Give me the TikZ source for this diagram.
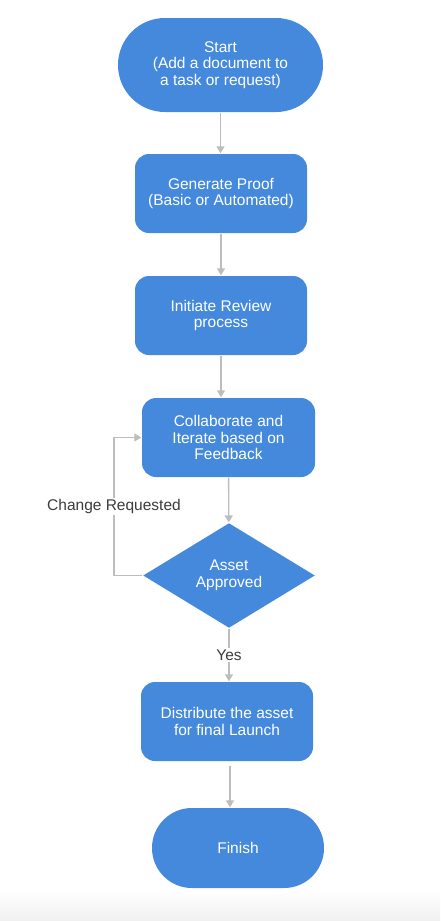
\documentclass[tikz,border=0pt]{standalone}
\usepackage{fontspec}
\setmainfont{Liberation Sans}
\usepackage{xcolor}
\usetikzlibrary{arrows.meta, shapes}

\definecolor{FlowBlue}{HTML}{4589DD}
\definecolor{FlowGray}{HTML}{BDBDBD}
\definecolor{TagGray}{HTML}{3C3C3C}

\begin{document}
\begin{tikzpicture}[x=1pt, y=-1pt,
  font=\fontsize{15.5}{16.5}\selectfont,
  terminal/.style ={fill=FlowBlue, text=white, align=center,
    minimum width=172pt, minimum height=80pt, rounded corners=39.9pt},
  % 
  process/.style ={fill=FlowBlue, text=white, align=center,
    minimum width=172pt, minimum height=79pt, rounded corners=14pt},
  % 
  decision/.style ={diamond, fill=FlowBlue, text=white, align=center,
    minimum width=172pt, minimum height=105pt, inner sep=0pt},
  % 
  flow/.style ={draw=FlowGray, -{Triangle[width=8pt, length=7pt]}},
  tag/.style ={fill=white, text=TagGray, inner sep=1.5pt} ]

  \tikzset{every path/.style={line width=1.4pt}}

  \useasboundingbox (0,0) rectangle (440,921);
  \shade [top color=white, bottom color=black!6] (0,890) rectangle (440,921);

  \begin{scope}
    %%%%%%%%%%%%%%%%%%%%%%%%%%%%%%%
    \node [terminal, minimum width=205pt, minimum height=94pt,
      rounded corners=46.9pt] (start) at (220.5,65)
      {Start\\(Add a document to\\a task or request)};
    \node [process] (proof) at (221,193.5)
      {Generate Proof\\(Basic or Automated)};
    \node [process] (review) at (221,315.5) {Initiate Review\\process};
    \node [process, minimum width=173pt] (iterate) at (228.5,437.5)
      {Collaborate and\\Iterate based on\\Feedback};
    %%%%%%%%%%%%%%%%%%%%%%%%%%%%%%%
    \node [decision] (approved) at (229,575.5) {Asset\\Approved};
    \node [process] (distribute) at (227,721.5)
      {Distribute the asset\\for final Launch};
    \node [terminal] (finish) at (238,848) {Finish};
  \end{scope}

  \begin{scope}
    \draw [flow] (start) -- (start |- proof.north);
    \draw [flow] (proof) -- (review);
    \draw [flow] (review.south) -- (review.south |- iterate.north);
    \draw [flow] (iterate) -- (approved);
    \coordinate (loop) at (114,575.5);
    \draw [flow] (approved.west) -- (loop) |- node [tag, pos=0.25]
      {Change Requested} (iterate.west);
    \draw [flow] (approved.south) -- node [tag] {Yes}
      (approved.south |- distribute.north);
    \draw [flow] ([xshift=3pt, yshift=-4pt]distribute.south)
      -- ([xshift=3pt]distribute.south |- finish.north);
  \end{scope}

\end{tikzpicture}
\end{document}
